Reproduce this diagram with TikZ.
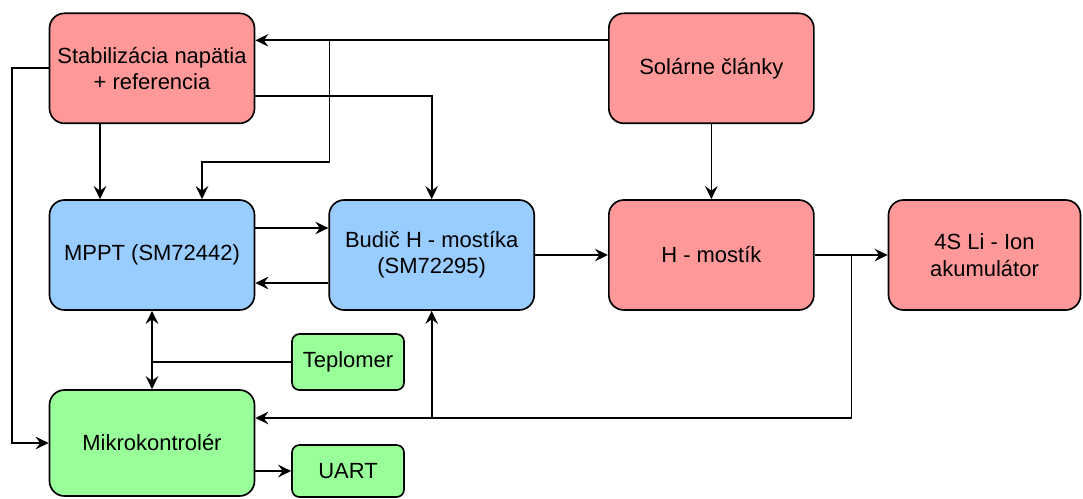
\documentclass[tikz,border=0pt]{standalone}
\usepackage{fontspec}
\setmainfont{Liberation Sans}
\usepackage{tikz}
\usetikzlibrary{positioning, arrows.meta}
\definecolor{blokred}{HTML}{FF9999}
\definecolor{blokblue}{HTML}{99CCFF}
\definecolor{blokgreen}{HTML}{99FF99}
\tikzset{
>={Stealth[length=2.6mm, width=2.5mm, inset=0.9mm]}, % makes the arrow heads bold
node distance=1.46cm, % gap between the boxes
block/.style={draw, rounded corners=0.3cm, align=center, minimum width=4.1cm, minimum height=2.2cm, font=\fontsize{12.5}{15}\selectfont}, % sets the properties of each box
smallblock/.style={block, rounded corners=0.15cm, minimum width=2.24cm, minimum height=1.12cm},
}

\begin{document}
\begin{tikzpicture}[line width=0.95pt]
            \useasboundingbox (0,0) rectangle (21.66,-9.96);
            \node[block, fill=blokblue] (mppt) at (3.04,-5.1) {MPPT (SM72442)};
            \node[block, fill=blokred, above=1.5cm of mppt] (stab) {Stabilizácia napätia\\+ referencia};
            \node[block, fill=blokblue, right=of mppt] (budic) {Budič H - mostíka\\(SM72295)};
            \node[block, fill=blokred, right=of budic] (hmost) {H - mostík};
            \node[block, fill=blokred, above=1.5cm of hmost] (solar) {Solárne články};
            \node[block, fill=blokred, right=of hmost, minimum width=3.84cm] (aku) {4S Li - Ion\\akumulátor};
            \node[block, fill=blokgreen, minimum height=2.12cm] (mcu) at (3.04,-8.86) {Mikrokontrolér};
            \node[smallblock, fill=blokgreen] (teplo) at (6.96,-7.24) {Teplomer};
            \node[smallblock, fill=blokgreen, minimum height=1.04cm] (uart) at (6.96,-9.42) {UART};
            \coordinate (odb) at (6.59,-0.82);
            \coordinate (zlom) at (6.59,-3.24);
            \coordinate (uzol) at (17.03,-5.1);
            \coordinate (spat) at (budic.south |- 0,-8.36);
            \draw[->] ([yshift=5.6mm]solar.west) -- ([yshift=5.6mm]stab.east);
            \draw[->] (odb) -- (zlom) -| ([xshift=1cm]mppt.north);
            \draw[->] ([xshift=-1.04cm]stab.south) -- ([xshift=-1.04cm]mppt.north);
            \draw[->] ([yshift=-5.6mm]stab.east) -| (budic.north);
            \draw[->] (stab.west) -- ++(-0.73,0) |- (mcu.west);
            \draw[->] (solar.south) -- (hmost.north);
            \draw[->] ([yshift=5.4mm]mppt.east) -- ([yshift=5.4mm]budic.west);
            \draw[->] ([yshift=-5.6mm]budic.west) -- ([yshift=-5.6mm]mppt.east);
            \draw[->] (budic.east) -- (hmost.west);
            \draw[->] (hmost.east) -- (aku.west);
            \draw[->] (uzol) |- ([yshift=5mm]mcu.east);
            \draw[->] (spat) -- (budic.south);
            \draw[<->] (mppt.south) -- (mcu.north);
            \draw (teplo.west) -- (teplo.west -| mppt.south);
            \draw[->] (uart.west -| mcu.east) -- (uart.west);
            \end{tikzpicture}
\end{document}
